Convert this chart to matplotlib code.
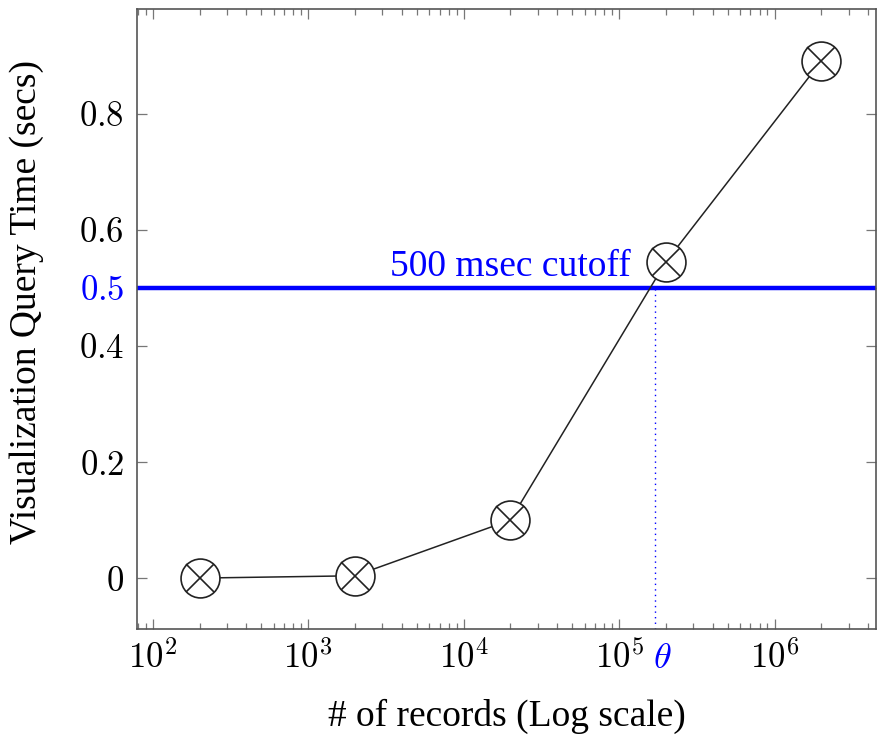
import numpy as np
import matplotlib
matplotlib.use("Agg")
import matplotlib.pyplot as plt
from matplotlib.ticker import LogLocator, NullFormatter, FixedLocator, FuncFormatter

plt.rcParams['font.family'] = ['Liberation Serif', 'DejaVu Serif']
plt.rcParams['mathtext.fontset'] = 'cm'

# data
records = [200, 2000, 20000, 200000, 2000000]
query_time = [0.0, 0.004, 0.1, 0.545, 0.891]
cutoff = 0.5
theta = 1.7e5
y_ticks = [0, 0.2, 0.4, 0.6, 0.8]
y_tick_labels = ['0', '0.2', '0.4', '0.6', '0.8']

fig = plt.figure(figsize=(8.77, 7.35), dpi=100)
ax = fig.add_axes([0.156, 0.144, 0.843, 0.844])

ax.set_xscale('log')
ax.set_xlim(79, 4.5e6)
ax.set_ylim(-0.088, 0.981)

blue = '#0000ff'
ax.axhline(cutoff, color=blue, lw=3.2, zorder=2)
ax.plot([theta, theta], [-0.088, cutoff], color=blue, lw=1, ls=(0, (1, 3)), zorder=2)
ax.text(2.0e4, cutoff + 0.006, '500 msec cutoff', color=blue, fontsize=27,
        ha='center', va='bottom')

ax.plot(records, query_time, color='#222222', lw=1.1, zorder=3)
ax.plot(records, query_time, ls='none', marker='o', ms=28, mfc='white',
        mec='#222222', mew=1.2, zorder=4)
ax.plot(records, query_time, ls='none', marker='x', ms=19.5, mec='#222222',
        mew=1.2, zorder=5)

ax.yaxis.set_major_locator(FixedLocator(y_ticks + [cutoff]))
ax.set_yticklabels(['$%s$' % t for t in y_tick_labels] + ['$0.5$'])
ax.get_yticklabels()[-1].set_color(blue)

ax.xaxis.set_major_locator(LogLocator(base=10, numticks=10))
ax.xaxis.set_major_formatter(FuncFormatter(lambda v, p: '$10^{%d}$' % round(np.log10(v))))
ax.xaxis.set_minor_locator(LogLocator(base=10, subs=np.arange(2, 10), numticks=20))
ax.xaxis.set_minor_formatter(NullFormatter())
ax.text(theta * 1.12, -0.088 - 0.024, r'$\theta$', color=blue, fontsize=26,
        ha='center', va='top', transform=ax.transData)

ax.tick_params(axis='both', which='major', direction='in', length=7, width=0.9,
               color='#777777', labelsize=25, top=True, right=True, pad=9)
ax.tick_params(axis='x', which='minor', direction='in', length=4, width=0.9,
               color='#777777', top=True)
for s in ax.spines.values():
    s.set_color('#555555')
    s.set_linewidth(1.2)

ax.set_xlabel('# of records (Log scale)', fontsize=27, labelpad=16)
ax.set_ylabel('Visualization Query Time (secs)', fontsize=27)
ax.yaxis.set_label_coords(-0.125, 0.527)

fig.savefig('out.png', dpi=100)
